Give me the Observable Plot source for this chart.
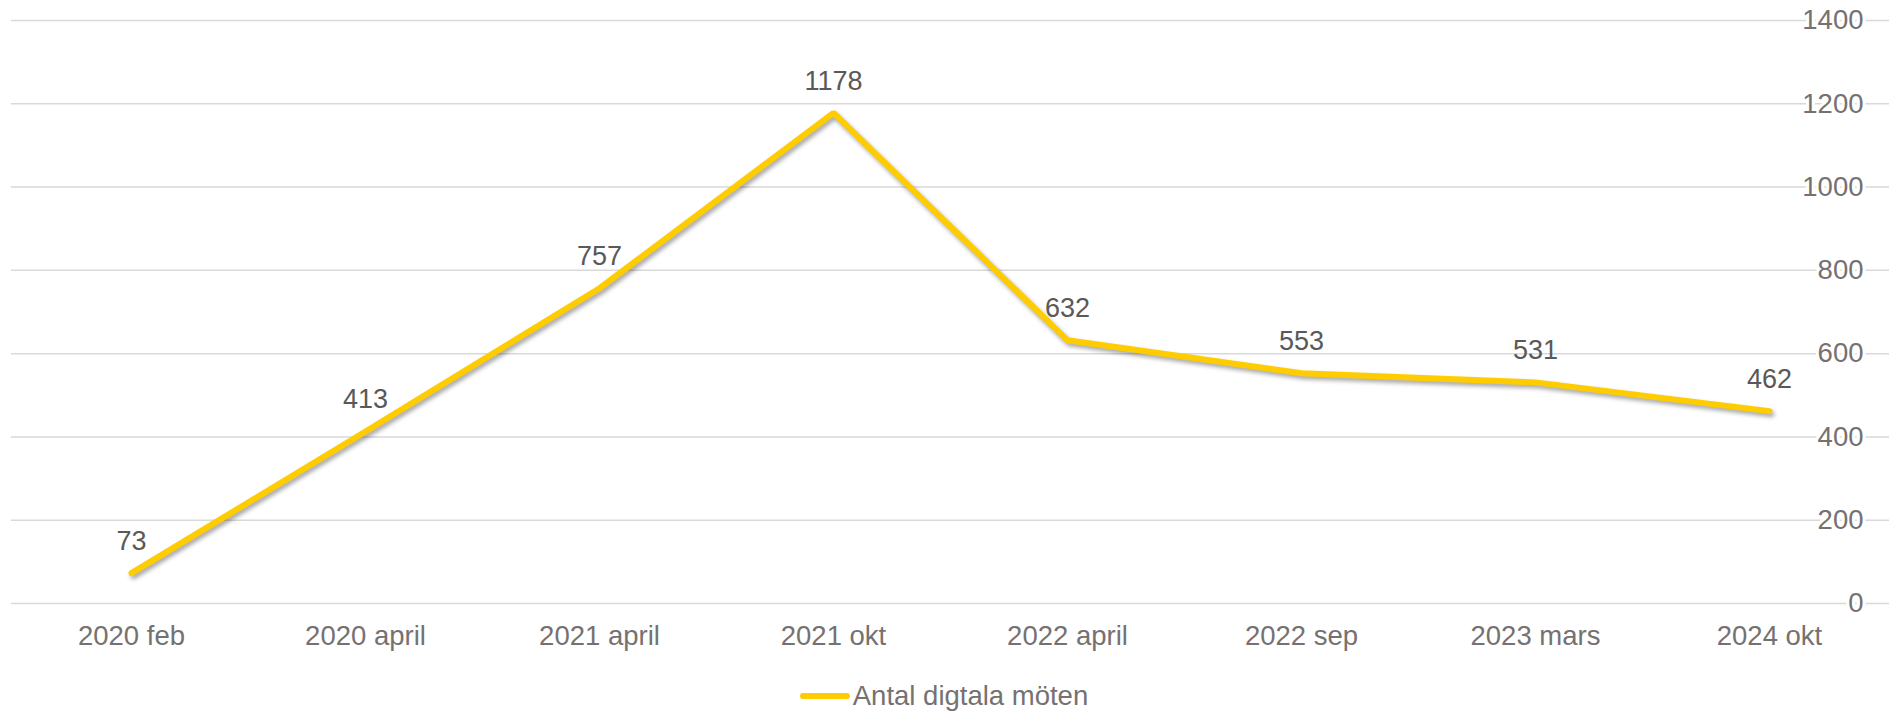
<!DOCTYPE html>
<html>
<head>
<meta charset="utf-8">
<script src="https://cdn.jsdelivr.net/npm/d3@7"></script>
<script src="https://cdn.jsdelivr.net/npm/@observablehq/plot@0.6"></script>
<style>
  html, body { margin: 0; padding: 0; background: #fff; }
  body { width: 1894px; height: 712px; overflow: hidden; font-family: "Liberation Sans", Arial, sans-serif; }
  #chart svg { display: block; }
  #chart svg [aria-label="y-axis tick label"] text { stroke: #fff; stroke-width: 6px; paint-order: stroke; stroke-linejoin: round; }
  #chart svg [aria-label="line"] { filter: drop-shadow(2px 3px 2px rgba(0,0,0,0.35)); }
  #legend { height: 47px; display: flex; justify-content: center; align-items: flex-start; }
  #legend .item { display: flex; align-items: center; margin-top: 16px; margin-left: -6px; }
  #legend .sw { width: 50px; height: 6px; border-radius: 3px; background: #FFCC00; margin-right: 3px; }
  #legend .lab { font-size: 27.5px; color: #767171; line-height: 30px; }
</style>
</head>
<body>
<div id="chart"></div>
<div id="legend"><div class="item"><div class="sw"></div><div class="lab">Antal digtala möten</div></div></div>
<script>
const categories = ["2020 feb", "2020 april", "2021 april", "2021 okt", "2022 april", "2022 sep", "2023 mars", "2024 okt"];
const values = [73, 413, 757, 1178, 632, 553, 531, 462];
const yTicks = [0, 200, 400, 600, 800, 1000, 1200, 1400];
const seriesName = "Antal digtala möten";

const data = categories.map((c, i) => ({category: c, value: values[i]}));

const chart = Plot.plot({
  width: 1894,
  height: 665,
  marginTop: 20,
  marginBottom: 62,
  marginLeft: 11,
  marginRight: 5,
  style: {fontFamily: "'Liberation Sans', Arial, sans-serif", fontSize: "27px", background: "#fff"},
  x: {type: "point", domain: categories, padding: 0.5},
  y: {domain: [0, 1400]},
  marks: [
    Plot.ruleY(yTicks, {stroke: "#d9d9d9", strokeWidth: 1.5}),
    Plot.axisX({tickSize: 0, tickPadding: 22, fill: "#767171", fontSize: 27.5, label: null}),
    Plot.axisY(yTicks, {anchor: "right", tickSize: 0, tickPadding: 0, textAnchor: "end", dx: -26, tickFormat: d => String(d), fill: "#767171", fontSize: 27.5, label: null}),
    Plot.line(data, {x: "category", y: "value", stroke: "#FFCC00", strokeWidth: 6, strokeLinejoin: "miter", strokeLinecap: "round"}),
    Plot.text(data, {x: "category", y: "value", text: d => String(d.value), dy: -32, fill: "#595959", fontSize: 27})
  ]
});
document.getElementById("chart").appendChild(chart);
</script>
</body>
</html>
